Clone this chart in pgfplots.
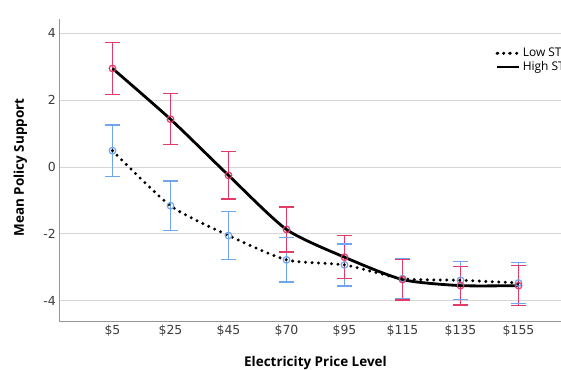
\documentclass[border=0pt]{standalone}
\usepackage{fontspec}
\setmainfont{Open Sans}
\newfontfamily\tickfont{DejaVu Sans}
\usepackage{pgfplots}
\pgfplotsset{compat=1.18}
\definecolor{hired}{RGB}{228,58,104}
\definecolor{loblue}{RGB}{110,165,238}
\definecolor{gridgray}{RGB}{215,215,215}
\definecolor{axgray}{RGB}{150,150,150}
\definecolor{ticktext}{RGB}{60,60,60}
\begin{document}
\begin{tikzpicture}
\path[use as bounding box] (0,0) rectangle (561bp,370bp);
\clip (0,0) rectangle (561bp,370bp);
\begin{axis}[
  at={(59.3bp,48.3bp)}, anchor=south west,
  scale only axis, width=534.8bp, height=302.7bp,
  xmin=-0.9172, xmax=8.3028, ymin=-4.63, ymax=4.43,
  axis x line*=bottom, axis y line*=left,
  axis line style={draw=axgray, line width=0.8bp, -},
  xtick={0,1,2,3,4,5,6,7},
  xticklabels={\$5,\$25,\$45,\$70,\$95,\$115,\$135,\$155},
  ytick={-4,-2,0,2,4},
  ymajorgrids, grid style={gridgray, line width=0.9bp},
  major tick length=0pt,
  tick label style={font=\tickfont\fontsize{12.5}{14}\selectfont, text=ticktext},
  /pgf/number format/assume math mode=true,
  xlabel={Electricity Price Level}, ylabel={Mean Policy Support},
  label style={font=\bfseries\fontsize{13.5}{15}\selectfont},
  xlabel style={at={(axis description cs:0.479,-0.138)}, anchor=center},
  ylabel style={at={(axis description cs:-0.0729,0.51)}, anchor=center},
  legend cell align=left,
  legend style={at={(axis cs:6.60,3.62)}, anchor=north west, draw=none, fill=none,
    font=\fontsize{12}{13}\selectfont, row sep=-1bp, inner sep=0pt},
]
% Low ST error bars (whiskers) and markers
\addplot[forget plot, draw=none, mark=o, mark size=3.3bp,
  mark options={draw=loblue, line width=1.2bp},
  error bars/.cd, y dir=both, y explicit,
  error bar style={draw=loblue, line width=1.3bp, solid},
  error mark=none]
coordinates {
(0,0.49) +- (0,0.77)
(1,-1.16) +- (0,0.74)
(2,-2.05) +- (0,0.71)
(3,-2.78) +- (0,0.66)
(4,-2.93) +- (0,0.63)
(5,-3.34) +- (0,0.61)
(6,-3.39) +- (0,0.57)
(7,-3.47) +- (0,0.62)
};
% Low ST caps
\addplot[forget plot, only marks, mark=-, mark size=7.5bp,
  mark options={draw=loblue, line width=1.3bp}]
coordinates {
(0,1.26) (0,-0.28) (1,-0.42) (1,-1.90) (2,-1.34) (2,-2.76) (3,-2.12) (3,-3.44)
(4,-2.30) (4,-3.56) (5,-2.73) (5,-3.95) (6,-2.82) (6,-3.96) (7,-2.85) (7,-4.09)
};
% High ST error bars and markers
\addplot[forget plot, draw=none, mark=o, mark size=3.3bp,
  mark options={draw=hired, line width=1.2bp},
  error bars/.cd, y dir=both, y explicit,
  error bar style={draw=hired, line width=1.3bp, solid},
  error mark=none]
coordinates {
(0,2.95) +- (0,0.78)
(1,1.43) +- (0,0.76)
(2,-0.25) +- (0,0.71)
(3,-1.87) +- (0,0.67)
(4,-2.70) +- (0,0.64)
(5,-3.37) +- (0,0.61)
(6,-3.55) +- (0,0.58)
(7,-3.55) +- (0,0.60)
};
% High ST caps
\addplot[forget plot, only marks, mark=-, mark size=7.5bp,
  mark options={draw=hired, line width=1.3bp}]
coordinates {
(0,3.73) (0,2.17) (1,2.19) (1,0.67) (2,0.46) (2,-0.96) (3,-1.20) (3,-2.54)
(4,-2.06) (4,-3.34) (5,-2.76) (5,-3.98) (6,-2.97) (6,-4.13) (7,-2.95) (7,-4.15)
};
% Lines
\addplot[black, line width=3.3bp, dash pattern=on 0pt off 6.5bp, line cap=round,
  smooth, tension=0.4, mark=none,
  legend image code/.code={\path (0bp,0bp) -- (22bp,0bp);
    \draw[black, line width=2.4bp, dash pattern=on 0pt off 5.5bp, line cap=round] (1bp,0bp) -- (13bp,0bp);}]
coordinates {(0,0.49) (1,-1.16) (2,-2.05) (3,-2.78) (4,-2.93) (5,-3.34) (6,-3.39) (7,-3.47)};
\addlegendentry{Low ST}
\addplot[black, line width=2.8bp, smooth, tension=0.4, mark=none,
  legend image code/.code={\draw[black, line width=2.2bp] (0bp,0bp) -- (22bp,0bp);}]
coordinates {(0,2.95) (1,1.43) (2,-0.25) (3,-1.87) (4,-2.70) (5,-3.37) (6,-3.55) (7,-3.55)};
\addlegendentry{High ST}
\end{axis}
\end{tikzpicture}
\end{document}
